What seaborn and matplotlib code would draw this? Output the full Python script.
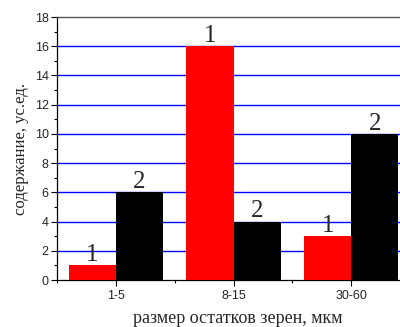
import matplotlib
matplotlib.use("Agg")
import matplotlib.pyplot as plt
from matplotlib.ticker import MultipleLocator
import seaborn as sns
import pandas as pd

sizes = ["1-5", "8-15", "30-60"]
series_1 = [1, 16, 3]
series_2 = [6, 4, 10]
series_names = ["1", "2"]

df = pd.DataFrame({
    "size": sizes * 2,
    "value": series_1 + series_2,
    "series": [series_names[0]] * 3 + [series_names[1]] * 3,
})

sns.set_style("white")
plt.rcParams["font.family"] = ["Liberation Sans", "DejaVu Sans"]
serif = ["Liberation Serif", "DejaVu Serif"]

fig = plt.figure(figsize=(4.0, 3.27), dpi=100)
ax = fig.add_axes([0.1425, 0.1437, 0.8575, 0.8043])

sns.barplot(data=df, x="size", y="value", hue="series",
            palette=["#ff0000", "#000000"], width=0.8, gap=0,
            saturation=1, linewidth=0, legend=False, zorder=3, ax=ax)

# number of the series above each bar
for b in ax.patches:
    h = b.get_height()
    if h <= 0:
        continue
    lab = series_names[0] if b.get_facecolor()[0] > 0.5 else series_names[1]
    ax.annotate(lab, (b.get_x() + b.get_width() / 2, h), xytext=(0, 3),
                textcoords="offset points", ha="center", va="baseline",
                fontsize=18, family=serif, zorder=2)

for yv in range(2, 18, 2):
    ax.axhline(yv, color="#0000ff", lw=1.0, zorder=1)

ax.set_xlim(-0.49, 2.415)
ax.set_ylim(0, 18)
ax.yaxis.set_major_locator(MultipleLocator(2))
ax.yaxis.set_minor_locator(MultipleLocator(1))
ax.set_xticks([0, 1, 2])
ax.set_xticks([-0.5, 0.5, 1.5], minor=True)
ax.tick_params(axis="both", which="major", direction="out", length=4, width=0.8,
               labelsize=9, color="black", pad=2)
ax.tick_params(axis="both", which="minor", direction="out", length=2.5, width=0.8,
               color="black")
ax.tick_params(axis="x", which="major", pad=3)
ax.tick_params(left=True, bottom=True, which="both")

for s in ["left", "bottom"]:
    ax.spines[s].set_color("black")
    ax.spines[s].set_linewidth(0.9)
ax.spines["top"].set_color("#555555")
ax.spines["top"].set_linewidth(1.0)
ax.spines["right"].set_visible(False)

ax.set_xlabel("размер остатков зерен, мкм", fontsize=13, family=serif)
ax.xaxis.set_label_coords(0.528, -0.145)
ax.xaxis.label.set_va("center")
ax.set_ylabel("содержание, ус.ед.", fontsize=12, family=serif, labelpad=4)

fig.savefig("out.png", dpi=100)
